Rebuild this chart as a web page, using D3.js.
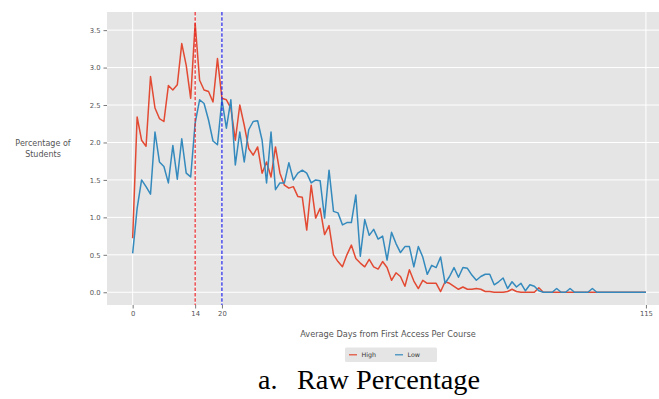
<!DOCTYPE html>
<html>
<head>
<meta charset="utf-8">
<script src="https://cdn.jsdelivr.net/npm/d3@7"></script>
<style>
  html, body { margin: 0; padding: 0; background: #ffffff; }
  svg { display: block; }
</style>
</head>
<body>
<svg id="chart" width="659" height="399"></svg>
<script>
// ---- data ----
const days = d3.range(0, 116);
const highValues = [
  0.72, 2.34, 2.03, 1.95, 2.88, 2.46, 2.32, 2.28, 2.76, 2.70,
  2.77, 3.32, 3.03, 2.59, 3.59, 2.83, 2.70, 2.68, 2.54, 3.12,
  2.59, 2.57, 2.46, 2.03, 2.50, 2.23, 1.92, 1.83, 1.94, 1.59,
  1.74, 1.54, 1.94, 1.59, 1.43, 1.39, 1.41, 1.28, 1.27, 0.83,
  1.43, 0.99, 1.12, 0.77, 0.89, 0.50, 0.41, 0.34, 0.50, 0.63,
  0.45, 0.39, 0.34, 0.44, 0.34, 0.31, 0.41, 0.33, 0.16, 0.26,
  0.21, 0.08, 0.30, 0.15, 0.05, 0.16, 0.12, 0.12, 0.12, 0.01,
  0.14, 0.12, 0.08, 0.04, 0.07, 0.04, 0.04, 0.05, 0.04, 0.01,
  0.01, 0.00, 0.00, 0.00, 0.01, 0.04, 0.01, 0.00, 0.00, 0.00,
  0.00, 0.06, 0.00, 0.00, 0.00, 0.00, 0.00, 0.00, 0.00, 0.00,
  0.00, 0.00, 0.00, 0.00, 0.00, 0.00, 0.00, 0.00, 0.00, 0.00,
  0.00, 0.00, 0.00, 0.00, 0.00, 0.00
];
const lowValues = [
  0.52, 1.12, 1.50, 1.41, 1.31, 2.14, 1.74, 1.68, 1.46, 1.96,
  1.51, 2.05, 1.59, 1.54, 2.26, 2.57, 2.52, 2.30, 2.02, 1.97,
  2.57, 2.19, 2.57, 1.70, 2.14, 1.74, 2.17, 2.28, 2.29, 2.03,
  1.46, 2.14, 1.37, 1.46, 1.46, 1.73, 1.50, 1.59, 1.63, 1.59,
  1.46, 1.50, 1.49, 0.99, 1.63, 1.08, 1.06, 0.90, 0.93, 0.93,
  1.30, 0.48, 0.97, 0.76, 0.84, 0.71, 0.75, 0.43, 0.80, 0.65,
  0.53, 0.61, 0.61, 0.34, 0.61, 0.47, 0.24, 0.36, 0.33, 0.47,
  0.12, 0.21, 0.33, 0.20, 0.33, 0.32, 0.23, 0.16, 0.21, 0.24,
  0.24, 0.10, 0.14, 0.19, 0.05, 0.14, 0.07, 0.12, 0.02, 0.10,
  0.08, 0.02, 0.00, 0.00, 0.00, 0.05, 0.00, 0.00, 0.05, 0.00,
  0.00, 0.00, 0.00, 0.05, 0.00, 0.00, 0.00, 0.00, 0.00, 0.00,
  0.00, 0.00, 0.00, 0.00, 0.00, 0.00
];
const seriesNames = ["High", "Low"];
const xTicks = [0, 14, 20, 115];
const yTicks = [0.0, 0.5, 1.0, 1.5, 2.0, 2.5, 3.0, 3.5];
const markerDays = [14, 20];
const xLabel = "Average Days from First Access Per Course";
const yLabelLines = ["Percentage of", "Students"];
const captionLetter = "a.";
const captionText = "Raw Percentage";

// ---- layout ----
const svg = d3.select("#chart");
const plot = { left: 107, right: 671.6, top: 12, bottom: 305 };
const x = d3.scaleLinear().domain([-5.75, 120.75]).range([plot.left, plot.right]);
const y = d3.scaleLinear().domain([-0.17, 3.742]).range([plot.bottom, plot.top]);
const colors = { High: "#E24A33", Low: "#348ABD" };
const font = "'DejaVu Sans', sans-serif";

svg.append("rect")
  .attr("x", plot.left).attr("y", plot.top)
  .attr("width", plot.right - plot.left).attr("height", plot.bottom - plot.top)
  .attr("fill", "#E5E5E5");

// grid
svg.append("g").selectAll("line").data(yTicks).join("line")
  .attr("x1", plot.left).attr("x2", plot.right)
  .attr("y1", d => y(d)).attr("y2", d => y(d))
  .attr("stroke", "#ffffff").attr("stroke-width", 1);
svg.append("g").selectAll("line").data(xTicks).join("line")
  .attr("y1", plot.top).attr("y2", plot.bottom)
  .attr("x1", d => x(d)).attr("x2", d => x(d))
  .attr("stroke", "#ffffff").attr("stroke-width", 1);

// axes
const yAxis = d3.axisLeft(y).tickValues(yTicks).tickFormat(d3.format(".1f")).tickSize(3.5).tickPadding(3);
const xAxis = d3.axisBottom(x).tickValues(xTicks).tickFormat(d3.format("d")).tickSize(3.5).tickPadding(2.5);
const gy = svg.append("g").attr("transform", `translate(${plot.left},0)`).call(yAxis);
const gx = svg.append("g").attr("transform", `translate(0,${plot.bottom})`).call(xAxis);
[gx, gy].forEach(g => {
  g.select(".domain").remove();
  g.selectAll(".tick line").attr("stroke", "#555555").attr("stroke-width", 0.8);
  g.selectAll(".tick text").attr("fill", "#555555").style("font-family", font).style("font-size", "6.8px");
});

// series lines
const lineGen = d3.line().x((d, i) => x(days[i])).y(d => y(d));
[["High", highValues], ["Low", lowValues]].forEach(([name, vals]) => {
  svg.append("path").datum(vals)
    .attr("d", lineGen)
    .attr("fill", "none")
    .attr("stroke", colors[name])
    .attr("stroke-width", 1.5)
    .attr("stroke-linejoin", "round");
});

// marker dashed lines
const markerColors = ["#e8262a", "#2020e8"];
svg.append("g").selectAll("line").data(markerDays).join("line")
  .attr("x1", d => x(d)).attr("x2", d => x(d))
  .attr("y1", plot.top).attr("y2", plot.bottom)
  .attr("stroke", (d, i) => markerColors[i])
  .attr("stroke-width", 1.2)
  .attr("stroke-dasharray", "3.5,1.8");

// axis labels
svg.append("text")
  .attr("x", 388).attr("y", 336.5)
  .attr("text-anchor", "middle")
  .attr("fill", "#555555")
  .style("font-family", font).style("font-size", "8.2px")
  .text(xLabel);
svg.append("g").selectAll("text").data(yLabelLines).join("text")
  .attr("x", 43).attr("y", (d, i) => 146 + i * 10.5)
  .attr("text-anchor", "middle")
  .attr("fill", "#555555")
  .style("font-family", font).style("font-size", "8px")
  .text(d => d);

// legend
const leg = svg.append("g");
leg.append("rect")
  .attr("x", 345).attr("y", 347.5).attr("width", 92).attr("height", 14.5)
  .attr("rx", 1.5)
  .attr("fill", "#E5E5E5");
const legItems = [
  { name: seriesNames[0], lx: 349 },
  { name: seriesNames[1], lx: 395 }
];
legItems.forEach(it => {
  leg.append("line")
    .attr("x1", it.lx).attr("x2", it.lx + 8)
    .attr("y1", 354.8).attr("y2", 354.8)
    .attr("stroke", colors[it.name]).attr("stroke-width", 1.2);
  leg.append("text")
    .attr("x", it.lx + 12.5).attr("y", 357)
    .attr("fill", "#333333")
    .style("font-family", font).style("font-size", "6.3px")
    .text(it.name);
});

// caption
svg.append("text")
  .attr("x", 258).attr("y", 389)
  .attr("fill", "#000000")
  .style("font-family", "'Liberation Serif', 'Times New Roman', serif").style("font-size", "28px")
  .text(captionLetter);
svg.append("text")
  .attr("x", 297).attr("y", 389)
  .attr("fill", "#000000")
  .style("font-family", "'Liberation Serif', 'Times New Roman', serif").style("font-size", "28.3px")
  .text(captionText);
</script>
</body>
</html>
